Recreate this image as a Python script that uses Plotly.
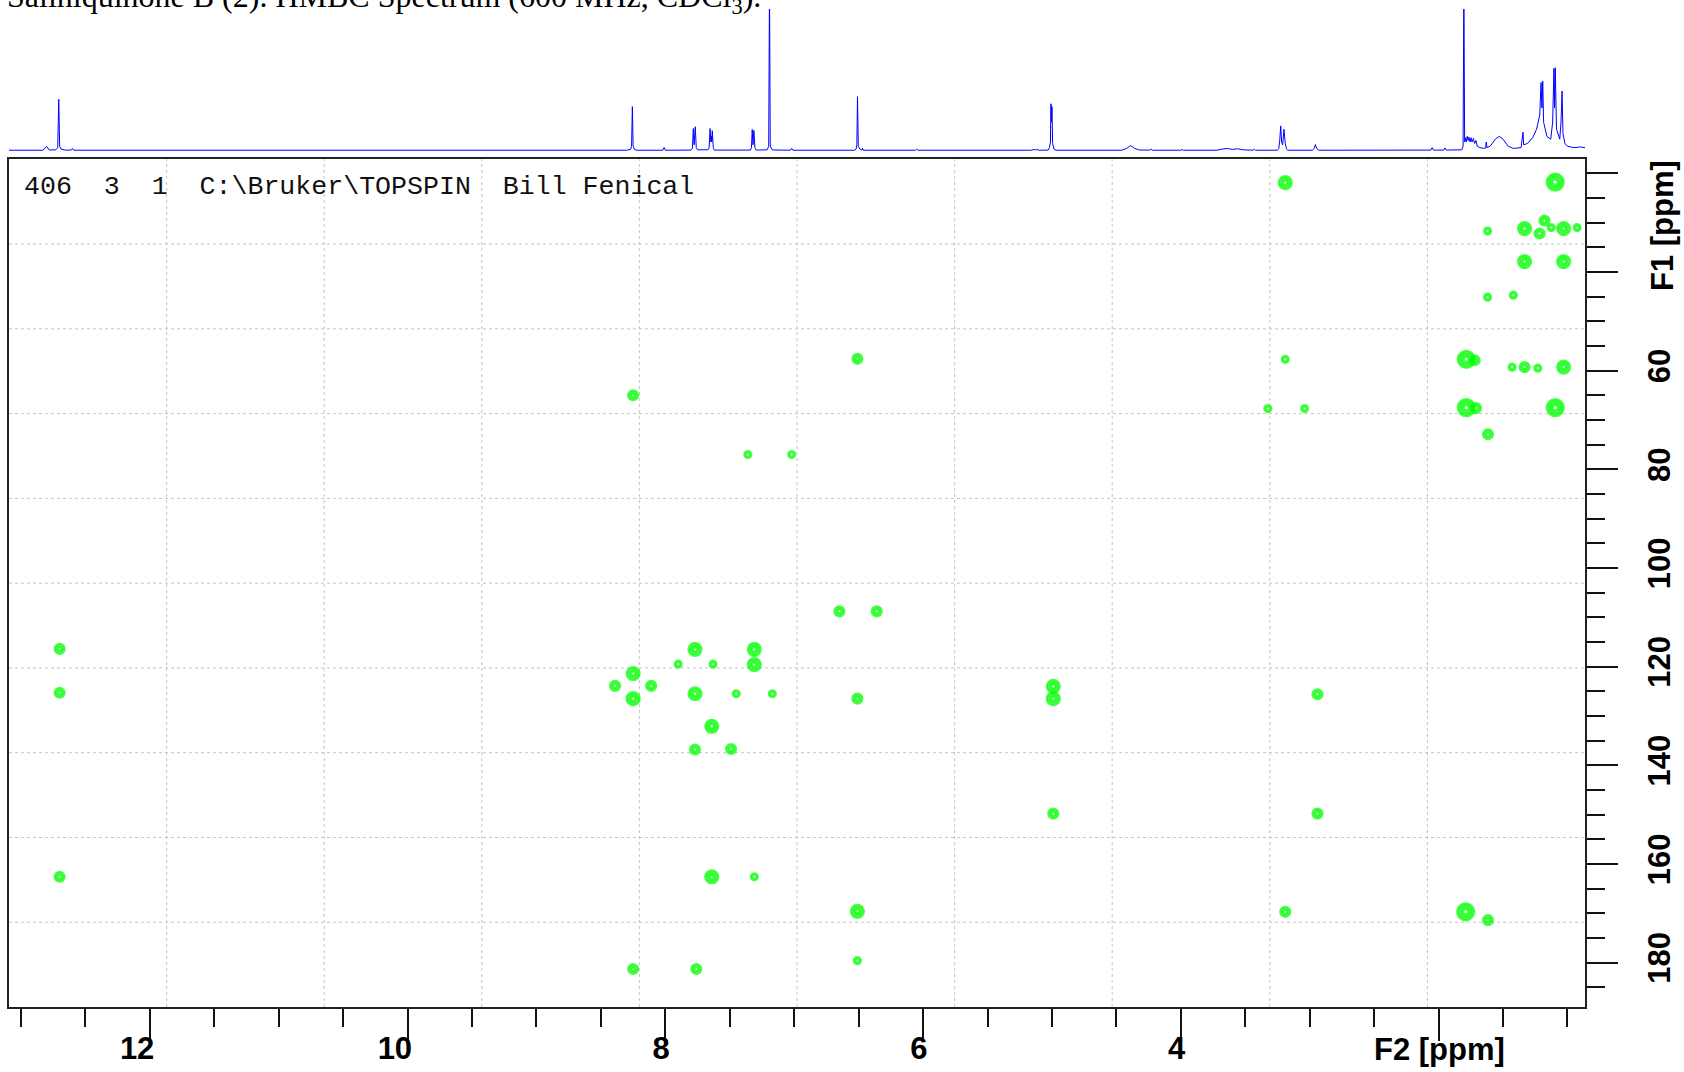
import plotly.graph_objects as go

# ---------------- data ----------------
# 1D 1H projection along F2 (ppm) : vertices, intensity in % of strip height
h1_ppm = [13.093, 12.83, 12.80, 12.78, 12.73, 12.715, 12.707, 12.70, 12.69, 12.66, 12.61, 12.60, 12.59,
          8.30, 8.27, 8.262, 8.256, 8.25, 8.24, 8.22, 8.02, 8.01, 8.00,
          7.80, 7.79, 7.783, 7.777, 7.768, 7.76, 7.75,
          7.67, 7.66, 7.653, 7.647, 7.643, 7.64, 7.636, 7.628, 7.62,
          7.34, 7.332, 7.326, 7.32, 7.313, 7.305, 7.295,
          7.21, 7.198, 7.192, 7.186, 7.17, 7.03, 7.02, 7.01,
          6.53, 6.52, 6.514, 6.509, 6.503, 6.49, 6.475, 6.47, 6.465, 6.06, 6.05, 6.04,
          5.16, 5.14, 5.13, 5.12, 5.10, 5.03, 5.02, 5.012, 5.008, 5.004, 5.000, 4.995, 4.985, 4.97,
          4.46, 4.42, 4.39, 4.36, 4.32, 4.24, 4.23, 4.22, 4.00, 3.99, 3.98,
          3.72, 3.68, 3.64, 3.60, 3.56, 3.52, 3.48, 3.44, 3.43, 3.42,
          3.25, 3.24, 3.232, 3.225, 3.218, 3.21, 3.20, 3.19, 3.18, 3.17,
          2.98, 2.965, 2.956, 2.947, 2.93, 2.59, 2.58, 2.57, 2.40, 2.35, 2.30, 2.20, 2.15, 2.10,
          2.06, 2.05, 2.04, 1.96, 1.95, 1.94,
          1.90, 1.82, 1.81, 1.804, 1.798, 1.79, 1.785, 1.778, 1.77, 1.765, 1.755, 1.748, 1.74, 1.73,
          1.72, 1.71, 1.70, 1.68, 1.65, 1.635, 1.63, 1.625, 1.60, 1.56, 1.53, 1.50, 1.46, 1.42,
          1.36, 1.345, 1.34, 1.31, 1.27, 1.24, 1.215, 1.205, 1.198, 1.192, 1.185, 1.16, 1.13,
          1.115, 1.105, 1.10, 1.095, 1.085, 1.06, 1.05, 1.042, 1.035, 1.02, 1.00, 0.95, 0.90, 0.864]
h1_int = [0.2, 0.2, 2.8, 0.3, 0.5, 2, 36.2, 3, 1, 0.3, 0.3, 1.4, 0.2,
          0.2, 0.8, 3, 31, 3, 0.8, 0.2, 0.2, 2.1, 0.2,
          0.3, 1.5, 15.5, 4, 16.8, 2, 0.5,
          0.5, 2, 15.5, 6, 10, 6, 14, 2, 0.3,
          0.3, 2, 14.8, 4, 14.2, 2, 0.3,
          0.5, 3, 120, 3, 0.4, 0.2, 1.5, 0.2,
          0.2, 1, 4, 38, 3, 1, 0.3, 1.5, 0.2, 0.2, 1, 0.2,
          0.2, 0.8, 0.3, 0.8, 0.2, 0.3, 2, 6, 33, 20, 31, 5, 1, 0.2,
          0.2, 1.5, 3.5, 1.5, 0.3, 0.3, 1, 0.2, 0.2, 0.7, 0.2,
          0.2, 1, 1.4, 0.8, 1.2, 0.5, 0.2, 0.2, 1, 0.2,
          0.2, 1.5, 8, 17.4, 6, 4, 15, 5, 1, 0.2,
          0.2, 1.5, 4.2, 1.5, 0.2, 0.2, 0.7, 0.2, 0.2, 0.6, 0.2, 0.5, 0.3, 0.5,
          0.3, 2, 0.3, 0.3, 1.8, 0.3,
          0.3, 0.5, 3, 120, 6, 9, 6, 10, 7, 9.5, 6, 9, 6, 8.5,
          5, 7, 3, 2, 1.5, 1.8, 6, 2, 3, 8, 10, 8, 3, 1.5,
          2, 13, 4, 5, 9, 15, 25, 48, 30, 49, 20, 10, 8,
          20, 58, 30, 58.5, 15, 8, 20, 42, 12, 5, 3, 2, 2.5, 2]

# HMBC cross peaks: F2 (1H, ppm), F1 (13C, ppm), number of contour levels
hmbc_f2 = [12.70, 12.70, 12.70, 8.25, 8.25, 8.25, 8.25, 8.39, 8.11, 7.90,
           7.77, 7.77, 7.77, 7.76, 7.63, 7.64, 7.64, 7.49, 7.45, 7.36,
           7.31, 7.31, 7.31, 7.17, 7.02, 6.51, 6.65, 6.36, 6.51, 6.51,
           6.51, 4.99, 4.99, 4.99, 3.19, 3.19, 3.325, 3.04, 3.19, 2.94,
           2.94, 1.785, 1.72, 1.785, 1.71, 1.79, 1.62, 1.62, 1.617, 1.617,
           1.42, 1.43, 1.333, 1.333, 1.333, 1.216, 1.23, 1.178, 1.126, 1.095,
           1.095, 1.03, 1.03, 1.03, 0.925]
hmbc_f1 = [116.4, 125.3, 162.6, 65.0, 121.4, 126.5, 181.3, 123.9, 123.9, 119.5,
           116.5, 125.5, 136.8, 181.3, 119.5, 132.1, 162.6, 136.7, 125.5, 77.0,
           116.5, 119.6, 162.6, 125.5, 77.0, 57.6, 108.8, 108.8, 126.5, 169.6,
           179.6, 124.0, 126.5, 149.8, 21.9, 57.7, 67.7, 67.7, 169.7, 125.6,
           149.8, 57.7, 57.9, 67.5, 67.6, 169.7, 31.7, 45.1, 72.9, 171.4,
           44.7, 59.3, 31.2, 37.9, 59.3, 32.2, 59.5, 29.6, 31.0, 21.8,
           67.5, 31.2, 37.9, 59.3, 31.0]
hmbc_level = [2, 2, 2, 2, 3, 3, 2, 2, 2, 1,
              3, 3, 2, 2, 1, 3, 3, 2, 1, 1,
              3, 3, 1, 1, 1, 2, 2, 2, 2, 3,
              1, 3, 3, 2, 3, 1, 1, 1, 2, 2,
              2, 4, 2, 4, 2, 4, 1, 1, 2, 2,
              1, 1, 3, 3, 2, 2, 1, 2, 1, 4,
              4, 3, 3, 3, 1]

# axes
f2_range = [13.093, 0.864]
f1_range = [189.0, 17.16]
x_tick_vals = [12, 10, 8, 6, 4, 2]
x_tick_text = ["12", "10", "8", "6", "4", ""]
y_tick_vals = [20, 40, 60, 80, 100, 120, 140, 160, 180]
y_tick_text = ["", "", "60", "80", "100", "120", "140", "160", "180"]

title_text = "Saliniquinone B (2). HMBC Spectrum (600 MHz, CDCl<sub>3</sub>)."
header_text = r"406  3  1  C:\Bruker\TOPSPIN  Bill Fenical"

# ---------------- layout helpers ----------------
W, H = 1684, 1072
ML, MR, MT, MB = 9, 99, 0, 65
PH = H - MT - MB
PW = W - ML - MR


def yp(py):
    return (H - MB - py) / PH


def xp(px):
    return (px - ML) / PW


GREEN = "#00ff00"
BLUE = "#0000ff"
axis_font = dict(family="Liberation Sans, Arial, sans-serif", size=31, color="black", weight="bold")

fig = go.Figure()

# 1D projection
fig.add_trace(go.Scatter(x=h1_ppm, y=h1_int, mode="lines", line=dict(color=BLUE, width=1),
                         xaxis="x2", yaxis="y2", hoverinfo="skip", showlegend=False))

# contour rings
ring_size = {1: 7, 2: 10, 3: 13, 4: 17}
for d in range(max(hmbc_level) + 1):
    xs, ys, ss = [], [], []
    for xv, yv, lv in zip(hmbc_f2, hmbc_f1, hmbc_level):
        if lv + 1 > d:
            xs.append(xv)
            ys.append(yv)
            ss.append(max(ring_size[lv] - 3 * d, 2))
    fig.add_trace(go.Scatter(x=xs, y=ys, mode="markers",
                             marker=dict(symbol="circle-open", size=ss, color=GREEN,
                                         line=dict(width=2.2, color=GREEN)),
                             hoverinfo="skip", showlegend=False))

# dotted grid, 10 x 10 divisions
shapes = []
for i in range(1, 10):
    shapes.append(dict(type="line", xref="x domain", yref="y domain", x0=i / 10, x1=i / 10, y0=0, y1=1,
                       line=dict(color="#c4c4c4", width=1, dash="dot"), layer="below"))
    shapes.append(dict(type="line", xref="x domain", yref="y domain", x0=0, x1=1, y0=i / 10, y1=i / 10,
                       line=dict(color="#c4c4c4", width=1, dash="dot"), layer="below"))

annotations = [
    dict(text=title_text, xref="paper", yref="paper", x=xp(5), y=yp(21), xanchor="left", yanchor="bottom",
         showarrow=False, font=dict(family="Liberation Serif, Times New Roman, serif", size=32, color="black")),
    dict(text=header_text, xref="paper", yref="paper", x=xp(22), y=yp(187), xanchor="left", yanchor="middle",
         showarrow=False, font=dict(family="Courier New, Liberation Mono, monospace", size=26.6, color="#111")),
    dict(text="F2 [ppm]", xref="x", yref="paper", x=1.99, y=yp(1049), xanchor="center", yanchor="middle",
         showarrow=False, font=axis_font),
    dict(text="F1 [ppm]", xref="paper", yref="paper", x=xp(1662), y=yp(226), xanchor="center", yanchor="middle",
         textangle=-90, showarrow=False, font=axis_font),
]

fig.update_layout(
    width=W, height=H, margin=dict(l=ML, r=MR, t=MT, b=MB, pad=0),
    paper_bgcolor="white", plot_bgcolor="white", showlegend=False,
    xaxis=dict(domain=[0, 1], range=f2_range, anchor="y", showgrid=False, zeroline=False,
               showline=True, linecolor="#222", linewidth=1.5, mirror=True,
               ticks="outside", tickmode="array", tickvals=x_tick_vals, ticktext=x_tick_text,
               ticklen=32, tickwidth=1.5, tickcolor="#111", ticklabelposition="outside left",
               ticklabelstandoff=13, ticklabelshift=-6, tickfont=axis_font,
               minor=dict(tickmode="linear", tick0=0, dtick=0.5, ticks="outside", ticklen=18,
                          tickwidth=1.5, tickcolor="#111", showgrid=False)),
    yaxis=dict(domain=[0, yp(159.3)], range=f1_range, anchor="x", side="right", showgrid=False,
               zeroline=False, showline=True, linecolor="#222", linewidth=1.5, mirror=True,
               ticks="outside", tickmode="array", tickvals=y_tick_vals, ticktext=y_tick_text,
               ticklen=31, tickwidth=1.5, tickcolor="#111", tickangle=-90, tickfont=axis_font,
               ticklabelstandoff=15,
               minor=dict(tickmode="linear", tick0=0, dtick=5, ticks="outside", ticklen=18,
                          tickwidth=1.5, tickcolor="#111", showgrid=False)),
    xaxis2=dict(domain=[0, 1], range=f2_range, anchor="y2", visible=False),
    yaxis2=dict(domain=[yp(153), yp(9)], range=[-1.767, 100], anchor="x2", visible=False),
    shapes=shapes, annotations=annotations,
)

fig.write_html("out.html", config={"displayModeBar": False},
               post_script="document.body.style.margin='0px';")
